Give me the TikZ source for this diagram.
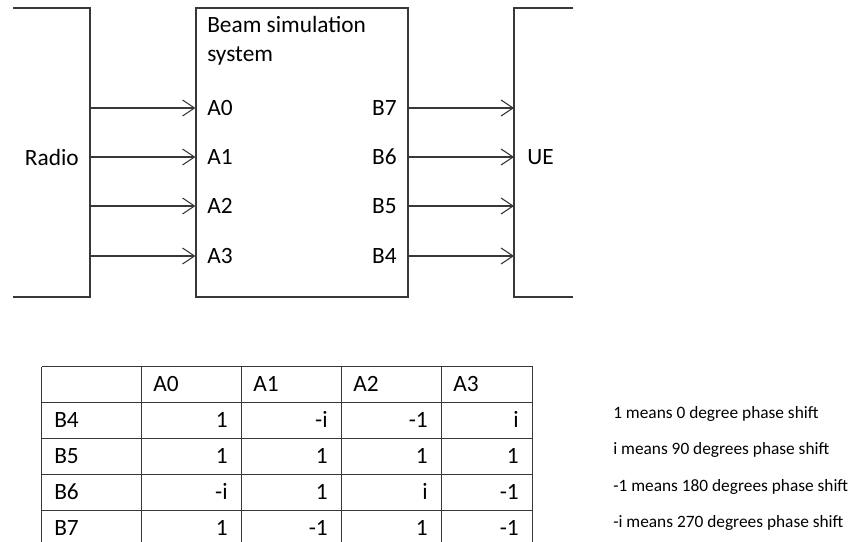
\documentclass[tikz,border=0pt]{standalone}
\usepackage{fontspec}
\setmainfont{Carlito}
\usetikzlibrary{arrows.meta}
\begin{document}
\begin{tikzpicture}[x=0.75pt,y=-0.75pt,
  ln/.style={draw=black!78,line width=0.8pt},
  arr/.style={ln,-{Straight Barb[length=9pt,width=12pt,line width=0.8pt]}},
  lbl/.style={inner sep=0pt,font=\fontsize{17.5}{20}\selectfont},
  leg/.style={inner sep=0pt,anchor=base west,font=\fontsize{13}{16}\selectfont},
  cellL/.style={lbl,anchor=base west},
  cellR/.style={lbl,anchor=base east}]
\useasboundingbox (0,0) rectangle (850,542);
% Radio (open on the left)
\draw[ln] (13,8) -- (90,8) -- (90,297) -- (13,297);
\node[lbl,anchor=east] (radio) at (79,157) {Radio};
% Beam simulation system
\node[ln,draw,rectangle,minimum width=159pt,minimum height=216.75pt,inner sep=0pt] (beam) at (302,152.5) {};
\node[lbl,anchor=base west] (title1) at (207,32.5) {Beam simulation};
\node[lbl,anchor=base west] (title2) at (207,61.5) {system};
% UE (open on the right)
\draw[ln] (573,8) -- (514,8) -- (514,297) -- (573,297);
\node[lbl,anchor=west] (ue) at (527,157) {UE};
% ports
\foreach \i/\b/\y in {0/7/108,1/6/157,2/5/206,3/4/256}{
  \coordinate (r\i) at (90,\y);
  \coordinate (u\i) at (514,\y);
  \node[lbl,anchor=west] (a\i) at (207,\y) {A\i};
  \node[lbl,anchor=east] (b\b) at (397,\y) {B\b};
  \draw[arr] (r\i) -- (r\i -| beam.west);
  \draw[arr] (u\i -| beam.east) -- (u\i);
}
% table
\foreach \x in {41.5,141.5,241.5,341.5,441.5,532.5}{
  \draw[ln] (\x,366.5) -- (\x,542);
}
\foreach \y in {366.5,402.5,438.5,474.5,510.5}{
  \draw[ln] (41.5,\y) -- (532.5,\y);
}
\node[cellL] (h0) at (153,391.5) {A0};
\node[cellL] (h1) at (253,391.5) {A1};
\node[cellL] (h2) at (353,391.5) {A2};
\node[cellL] (h3) at (453,391.5) {A3};
\foreach \r/\y/\p/\q/\s/\t in {B4/427/1/-i/-1/i, B5/463/1/1/1/1, B6/499/-i/1/i/-1, B7/535/1/-1/1/-1}{
  \node[cellL] (row\r) at (54,\y) {\r};
  \node[cellR] at (228,\y) {\p};
  \node[cellR] at (328,\y) {\q};
  \node[cellR] at (428,\y) {\s};
  \node[cellR] at (519,\y) {\t};
}
% legend
\node[leg] (l1) at (613,418) {1 means 0 degree phase shift};
\node[leg] (l2) at (613,454.5) {i means 90 degrees phase shift};
\node[leg] (l3) at (613,491) {-1 means 180 degrees phase shift};
\node[leg] (l4) at (613,527.5) {-i means 270 degrees phase shift};
\end{tikzpicture}
\end{document}
